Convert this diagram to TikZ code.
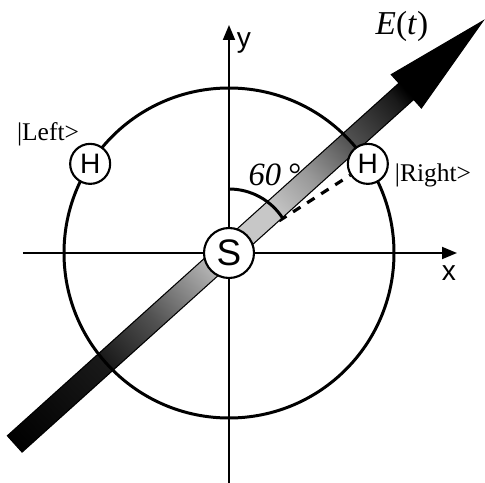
\documentclass[tikz,border=0pt]{standalone}
\usepackage{fontspec}
\setmainfont{Liberation Serif}
\newfontfamily\arialfont{Liberation Sans}
\usetikzlibrary{arrows.meta,positioning,backgrounds}

\pgfdeclarehorizontalshading{fieldshade}{100bp}{%
  color(0bp)=(black); color(25bp)=(black);
  color(34.7bp)=(black!90); color(39.8bp)=(black!68);
  color(45.8bp)=(black!30); color(48.9bp)=(black!22);
  color(52.5bp)=(black!22); color(56.5bp)=(black!40);
  color(60.8bp)=(black!68); color(65.6bp)=(black!90);
  color(66.8bp)=(black); color(100bp)=(black)}

\begin{document}
\begin{tikzpicture}[
        atom/.style={circle, draw, line width=1.2pt, fill=white, inner sep=0pt, font=\arialfont\fontsize{16}{16}\selectfont},
        axis/.style={line width=1.1pt, -{Triangle[length=0.3cm, width=0.24cm]}},
        ket/.style={font=\fontsize{14.5}{16}\selectfont},
        axislbl/.style={font=\arialfont\fontsize{16}{18}\selectfont}]

    \useasboundingbox (-4.58,-4.58) rectangle (5.12,5.06);

    % axes
    \coordinate (xstart) at (-4.12,0);
    \coordinate (xend) at (4.56,0);
    \coordinate (ystart) at (0,-4.62);
    \coordinate (yend) at (0,4.56);
    \draw[axis] (xstart) -- (xend);
    \draw[axis] (ystart) -- (yend);
    \node[axislbl] (xlbl) at (4.4,-0.4) {x};
    \node[axislbl] (ylbl) at (0.3,4.2) {y};

    % field arrow
    \begin{scope}[transform canvas={rotate=42}]
        \shadedraw[shading=fieldshade, draw=black, line width=0.6pt]
            (-5.74,-0.19) -- (4.80,-0.19) -- (4.80,-0.42) -- (6.88,0.05)
            -- (4.80,0.48) -- (4.80,0.25) -- (-5.74,0.25) -- cycle;
    \end{scope}

    \draw[line width=1.7pt] (0,0) circle[radius=3.3];
    \draw[line width=1.7pt] (90:1.28) arc[start angle=90, end angle=32.7, radius=1.28];

    \node[atom, minimum size=1cm, font=\arialfont\fontsize{21}{21}\selectfont] (spin) at (0,0) {S};
    \node[atom, minimum size=0.8cm] (hright) at (32.7:3.3) {H};
    \node[atom, minimum size=0.8cm] (hleft) at (147.3:3.3) {H};

    \begin{scope}[on background layer]
        \draw[line width=1.8pt, dash pattern=on 5pt off 4.5pt] (spin) -- (hright);
    \end{scope}

    \node[ket] (leftlbl) at (-3.62,2.38) {|Left>};
    \node[ket] (rightlbl) at (4.08,1.56) {|Right>};
    \node[font=\fontsize{18.5}{20}\selectfont] (anglelbl) at (0.92,1.56) {\itshape 60\hspace{4pt}\upshape °};
    \node[font=\fontsize{19}{21}\selectfont] (fieldlbl) at (3.46,4.54) {\textit{E}(\textit{t})};

\end{tikzpicture}
\end{document}
